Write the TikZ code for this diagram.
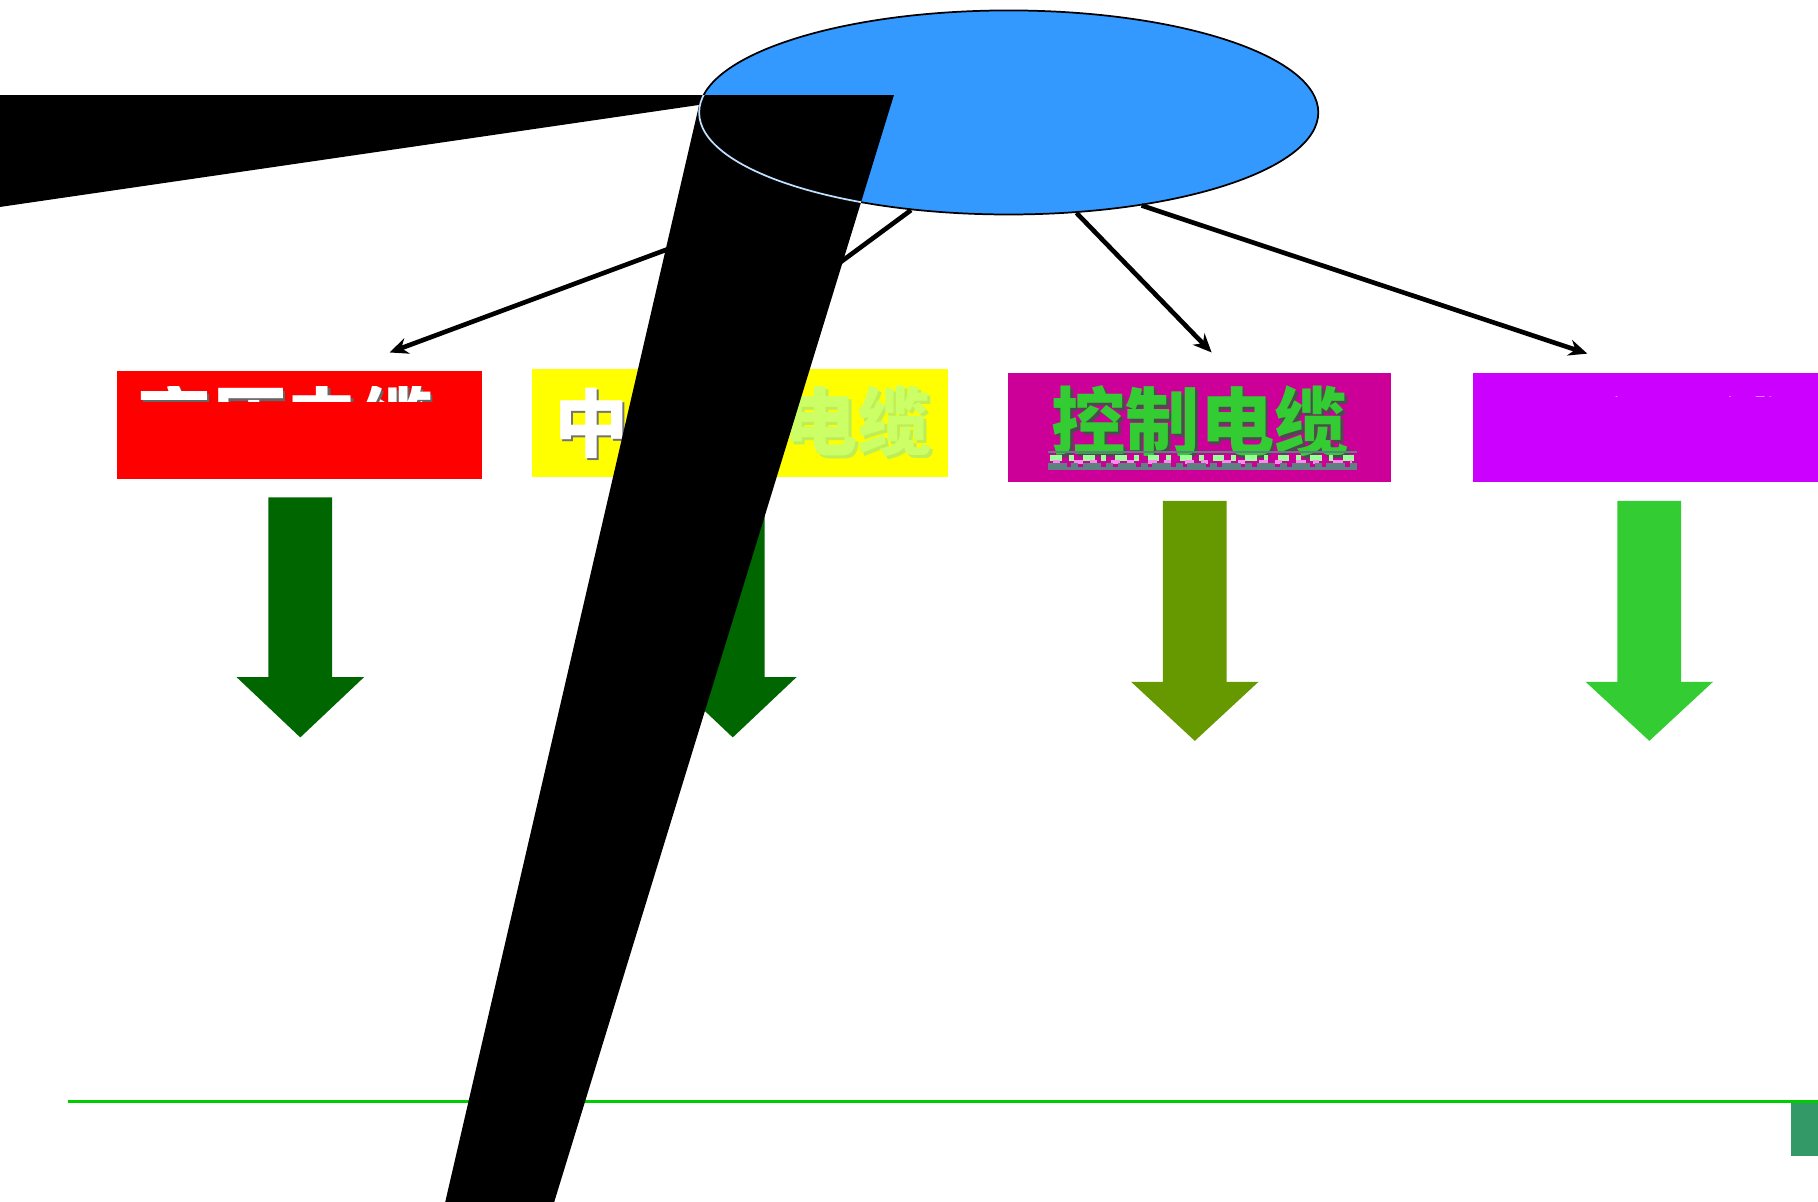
\documentclass[tikz,border=0pt]{standalone}
\usepackage{fontspec}
\newfontfamily\cjk{Noto Sans CJK SC}
\usetikzlibrary{shapes.geometric,arrows.meta}
\definecolor{ellblue}{HTML}{3399FF}
\definecolor{ellline}{HTML}{BFE0FF}
\definecolor{boxyellow}{HTML}{FFFF00}
\definecolor{boxmag}{HTML}{CC0099}
\definecolor{boxpurple}{HTML}{CC00FF}
\definecolor{txtgreen}{HTML}{33CC33}
\definecolor{txtlime}{HTML}{CCFF66}
\definecolor{txtlimesh}{HTML}{BDEE55}
\definecolor{arrdark}{HTML}{006600}
\definecolor{arrolive}{HTML}{669900}
\definecolor{arrgreen}{HTML}{33CC33}
\definecolor{lineg}{HTML}{00CC00}
\definecolor{tealbox}{HTML}{339966}
\definecolor{glitchgray}{HTML}{5F8080}
\definecolor{glitchgreen}{HTML}{99FF99}
\definecolor{glitchpink}{HTML}{FF88EE}
\newcommand\dnarrow[6]{% name, colour, centre x, shaft top, shoulder y, tip y
  \fill[#2] (#3-27.5,#4) -- (#3+27.5,#4) -- (#3+27.5,#5) -- (#3+55,#5)
    -- (#3,#6) coordinate (#1) -- (#3-55,#5) -- (#3-27.5,#5) -- cycle;}
\begin{document}
\begin{tikzpicture}[x=0.5pt,y=-0.5pt,
  box/.style={draw=none,inner sep=0pt,outer sep=0pt},
  conn/.style={line width=2pt,-{Stealth[length=8pt,width=7pt]}},
  cjktxt/.style={font=\cjk\bfseries\fontsize{32}{32}\selectfont,inner sep=0pt,anchor=base}]
\useasboundingbox (0,0) rectangle (1568,1036.7);
\clip (0,0) rectangle (1568,1036.7);
\fill[white] (0,0) rectangle (1568,1036.7);

% top ellipse
\node[ellipse,draw=black,line width=0.75pt,fill=ellblue,minimum width=267pt,
      minimum height=88pt,inner sep=0pt] (top) at (870,97) {};

% arrow tips
\coordinate (t1) at (336,304);
\coordinate (t2) at (618,305);
\coordinate (t3) at (1045,304);
\coordinate (t4) at (1369,305);
\draw[conn] (top.203.2) -- (t1);
\draw[conn] (top.225.7) -- (t2);
\draw[conn] (top.304.9) -- (t3);
\draw[conn] (top.325.6) -- (t4);

% boxes
\node[box,fill=red,minimum width=157.5pt,minimum height=46.5pt] (hv) at (258.5,366.5) {};
\node[box,fill=boxyellow,minimum width=179.5pt,minimum height=46.5pt] (mv) at (638.5,364.5) {};
\node[box,fill=boxmag,minimum width=165.5pt,minimum height=47pt] (cc) at (1034.5,369) {};
\node[box,fill=boxpurple,minimum width=165pt,minimum height=47pt] (tc) at (1435,369) {};

% box 1 text (only top strip shows)
\begin{scope}
  \clip (101,333) rectangle (416,346);
  \node[cjktxt,text=black!60] at (248.5,389) {高压电缆};
  \node[cjktxt,text=white] (hvt) at (246.5,387) {高压电缆};
\end{scope}

% box 2 text
\node[cjktxt,text=black!55] at (544,391.5) {中压};
\node[cjktxt,text=white] (mvt1) at (542,389.5) {中压};
\node[cjktxt,text=txtlimesh] at (742,390) {电缆};
\node[cjktxt,text=txtlime] (mvt2) at (740,388) {电缆};

% box 3 text
\node[cjktxt,text=black!70] at (1037.5,390.5) {控制电缆};
\node[cjktxt,text=txtgreen] (cct) at (1035,388) {控制电缆};
\fill[glitchgray] (904,389) rectangle (1170,391);
\draw[glitchgreen,line width=2.5pt,dash pattern=on 5pt off 3pt on 2pt off 4pt] (906,395) -- (1168,395);
\draw[glitchpink,line width=1.5pt,dash pattern=on 3pt off 6pt on 4pt off 3pt] (908,398.5) -- (1166,398.5);
\draw[glitchgray,line width=1.5pt,dash pattern=on 8pt off 2pt on 3pt off 2pt] (904,401) -- (1170,401);
\fill[glitchgray] (904,403) rectangle (1170,405);

% box 4 text (only tiny fragments)
\begin{scope}
  \clip (1270,338) rectangle (1568,342);
  \node[cjktxt,text=white] (tct) at (1417,397) {通信电缆};
\end{scope}

% block arrows
\dnarrow{a1}{arrdark}{259}{429}{584}{636}
\dnarrow{a2}{arrdark}{632}{429}{584}{636}
\dnarrow{a3}{arrolive}{1030.5}{432}{588}{639}
\dnarrow{a4}{arrgreen}{1422.5}{432}{588}{639}

% bottom rule and tab
\coordinate (l1) at (59,950);
\coordinate (l2) at (1568,950);
\draw[lineg,line width=1.1pt] (l1) -- (l2);
\node[box,fill=tealbox,minimum width=11.5pt,minimum height=23pt] (tab) at (1556.5,974) {};

% black overlay
\fill[black] (0,82) -- (771,82) -- (478,1036.7) -- (384,1036.7) -- (603,90.5) -- (0,178.5) -- cycle;
\begin{scope}
  \clip (0,82) -- (771,82) -- (478,1036.7) -- (384,1036.7) -- (603,90.5) -- (0,178.5) -- cycle;
  \draw[ellline,line width=0.75pt] (870,97) ellipse [x radius=267, y radius=88];
\end{scope}
\end{tikzpicture}
\end{document}
